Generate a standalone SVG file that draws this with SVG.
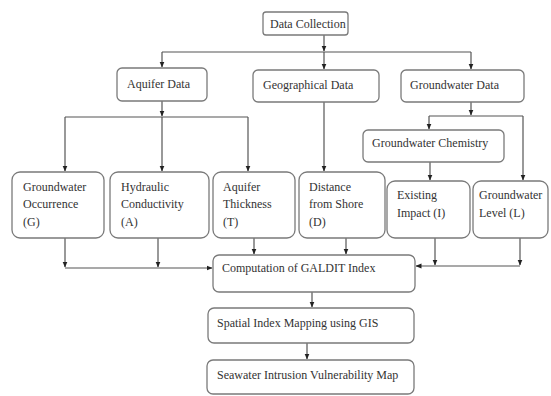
<svg xmlns="http://www.w3.org/2000/svg" width="551" height="396" viewBox="0 0 551 396">
<defs>
<marker id="ah" markerUnits="userSpaceOnUse" markerWidth="6" markerHeight="6" viewBox="0 0 6 6" refX="5.5" refY="3" orient="auto">
<path d="M0,0.5 L6,3 L0,5.5 Z" fill="#222"/>
</marker>
<style>
.box{fill:#fff;stroke:#7a7a7a;stroke-width:1.3}
.t{font-family:"Liberation Serif","Times New Roman",serif;font-size:12px;fill:#333}
.c{fill:none;stroke:#555;stroke-width:1.2}
.a{marker-end:url(#ah)}
</style>
</defs>
<rect width="551" height="396" fill="#fff"/>
<g id="connectors">
<path class="c a" d="M324,35 V51"/>
<path class="c" d="M162,52 H471"/>
<path class="c a" d="M162,52 V67"/>
<path class="c a" d="M324,52 V69"/>
<path class="c a" d="M471,52 V69"/>
<path class="c a" d="M162,101 V116"/>
<path class="c" d="M65,117 H248"/>
<path class="c a" d="M65,117 V171"/>
<path class="c a" d="M162,117 V171"/>
<path class="c a" d="M248,117 V171"/>
<path class="c a" d="M324,102 V171"/>
<path class="c a" d="M471,102 V115"/>
<path class="c" d="M429,116 H523"/>
<path class="c a" d="M429,116 V129"/>
<path class="c a" d="M523,116 V180"/>
<path class="c a" d="M430,162 V180"/>
<path class="c a" d="M65,238 V267"/>
<path class="c a" d="M158,238 V267"/>
<path class="c a" d="M65,268 H212"/>
<path class="c a" d="M254,238 V254"/>
<path class="c a" d="M346,238 V254"/>
<path class="c a" d="M435,238 V265"/>
<path class="c a" d="M520,238 V265"/>
<path class="c a" d="M520,266 H416"/>
<path class="c a" d="M312,292 V307"/>
<path class="c a" d="M307,343 V359"/>
</g>
<g id="data-collection"><rect class="box" x="263" y="12" width="85" height="23" rx="3"/><text class="t" x="270" y="28">Data Collection</text></g>
<g id="aquifer-data"><rect class="box" x="117" y="68" width="90" height="33" rx="5"/><text class="t" x="127" y="88">Aquifer Data</text></g>
<g id="geographical-data"><rect class="box" x="253" y="70" width="126" height="32" rx="5"/><text class="t" x="263" y="89">Geographical Data</text></g>
<g id="groundwater-data"><rect class="box" x="401" y="70" width="123" height="32" rx="5"/><text class="t" x="410" y="89">Groundwater Data</text></g>
<g id="groundwater-chemistry"><rect class="box" x="363" y="130" width="141" height="32" rx="5"/><text class="t" x="372" y="147">Groundwater Chemistry</text></g>
<g id="groundwater-occurrence"><rect class="box" x="12" y="172" width="92" height="66" rx="8"/><text class="t" x="23" y="191">Groundwater</text><text class="t" x="23" y="208">Occurrence</text><text class="t" x="23" y="226">(G)</text></g>
<g id="hydraulic-conductivity"><rect class="box" x="110" y="172" width="99" height="66" rx="8"/><text class="t" x="121" y="191">Hydraulic</text><text class="t" x="121" y="208">Conductivity</text><text class="t" x="121" y="226">(A)</text></g>
<g id="aquifer-thickness"><rect class="box" x="213" y="172" width="82" height="66" rx="8"/><text class="t" x="223" y="191">Aquifer</text><text class="t" x="223" y="208">Thickness</text><text class="t" x="223" y="226">(T)</text></g>
<g id="distance-from-shore"><rect class="box" x="299" y="172" width="86" height="66" rx="8"/><text class="t" x="309" y="191">Distance</text><text class="t" x="309" y="208">from Shore</text><text class="t" x="309" y="226">(D)</text></g>
<g id="existing-impact"><rect class="box" x="387" y="181" width="83" height="57" rx="8"/><text class="t" x="397" y="199">Existing</text><text class="t" x="397" y="217">Impact (I)</text></g>
<g id="groundwater-level"><rect class="box" x="473" y="181" width="75" height="57" rx="8"/><text class="t" x="479" y="199">Groundwater</text><text class="t" x="479" y="217">Level (L)</text></g>
<g id="computation"><rect class="box" x="213" y="255" width="202" height="37" rx="6"/><text class="t" x="222" y="272">Computation of GALDIT Index</text></g>
<g id="spatial-mapping"><rect class="box" x="208" y="308" width="206" height="35" rx="6"/><text class="t" x="217" y="327">Spatial Index Mapping using GIS</text></g>
<g id="vulnerability-map"><rect class="box" x="207" y="360" width="207" height="34" rx="6"/><text class="t" x="217" y="379">Seawater Intrusion Vulnerability Map</text></g>
</svg>
